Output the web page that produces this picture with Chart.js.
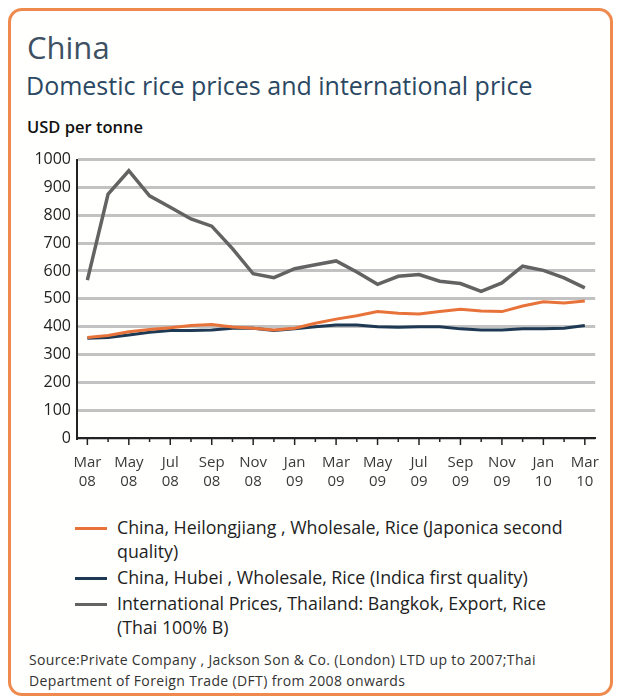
<!DOCTYPE html>
<html>
<head>
<meta charset="utf-8">
<script src="https://cdn.jsdelivr.net/npm/chart.js@4"></script>
<style>
  body { margin: 0; background: #fff; font-family: "Open Sans", sans-serif; }
  #frame {
    position: absolute; left: 8px; top: 8px; width: 599px; height: 682px;
    border: 3px solid #ef8a4f; border-radius: 14px; background: #fffffd;
  }
  #title { position: absolute; left: 27px; top: 26px; font-size: 31px; line-height: 42px; color: #3d5162; }
  #subtitle { position: absolute; left: 26px; top: 68px; font-size: 25px; line-height: 34px; color: #2b4863; }
  #unit { position: absolute; left: 27px; top: 115px; font-size: 16.5px; font-weight: 600; color: #111; letter-spacing: 0; }
  #chartBox { position: absolute; left: 20px; top: 144px; width: 594px; height: 354px; }
  #legend { position: absolute; left: 75px; top: 515px; width: 500px; font-size: 17.8px; color: #1e1e1e; }
  .item { position: relative; padding-left: 42px; line-height: 24px; margin-bottom: 2px; }
  .swatch { position: absolute; left: 0; top: 12px; width: 32px; height: 3px; }
  #source { position: absolute; left: 29px; top: 649px; font-size: 14px; color: #333; line-height: 21px; letter-spacing: 0.35px; }
</style>
</head>
<body>
<div id="frame"></div>
<div id="title">China</div>
<div id="subtitle">Domestic rice prices and international price</div>
<div id="unit">USD per tonne</div>
<div id="chartBox"><canvas id="riceChart"></canvas></div>
<div id="legend"></div>
<div id="source">Source:Private Company , Jackson Son &amp; Co. (London) LTD up to 2007;Thai<br>Department of Foreign Trade (DFT) from 2008 onwards</div>

<script>
// Months Mar 08 .. Mar 10
const months = ['Mar', 'Apr', 'May', 'Jun', 'Jul', 'Aug', 'Sep', 'Oct', 'Nov', 'Dec', 'Jan', 'Feb',
  'Mar', 'Apr', 'May', 'Jun', 'Jul', 'Aug', 'Sep', 'Oct', 'Nov', 'Dec', 'Jan', 'Feb', 'Mar'];
const years = ['08', '08', '08', '08', '08', '08', '08', '08', '08', '08', '09', '09',
  '09', '09', '09', '09', '09', '09', '09', '09', '09', '09', '10', '10', '10'];

const heilongjiang = [361, 368, 382, 390, 396, 404, 408, 399, 394, 388, 394, 412,
  427, 439, 454, 448, 445, 454, 462, 456, 454, 474, 489, 485, 492];
const hubei = [358, 361, 370, 380, 386, 386, 388, 394, 394, 386, 392, 400,
  406, 406, 400, 398, 400, 400, 392, 388, 388, 392, 392, 394, 404];
const thailand = [567, 876, 960, 870, 829, 787, 761, 680, 590, 576, 608, 622,
  636, 596, 552, 581, 587, 563, 555, 527, 557, 617, 602, 575, 539];

const yTicks = [0, 100, 200, 300, 400, 500, 600, 700, 800, 900, 1000];

const seriesLabels = [
  'China, Heilongjiang , Wholesale, Rice (Japonica second quality)',
  'China, Hubei , Wholesale, Rice (Indica first quality)',
  'International Prices, Thailand: Bangkok, Export, Rice (Thai 100% B)'
];
const seriesColors = ['#e8733a', '#1d3954', '#636363'];

const labels = months.map((m, i) => [m, years[i]]);

// short tick marks under the x axis, longer ones where there is a label
const monthTicks = {
  id: 'monthTicks',
  afterDraw(chart) {
    const x = chart.scales.x;
    const c = chart.ctx;
    c.save();
    c.strokeStyle = '#222';
    c.lineWidth = 1.5;
    x.ticks.forEach((t, i) => {
      const px = x.getPixelForTick(i);
      c.beginPath();
      c.moveTo(px, x.top);
      c.lineTo(px, x.top + (i % 2 === 0 ? 7 : 4));
      c.stroke();
    });
    c.restore();
  }
};

const ctx = document.getElementById('riceChart').getContext('2d');
const chart = new Chart(ctx, {
  type: 'line',
  data: {
    labels: labels,
    datasets: [
      { label: seriesLabels[2], data: thailand, borderColor: seriesColors[2], borderWidth: 3.5 },
      { label: seriesLabels[0], data: heilongjiang, borderColor: seriesColors[0], borderWidth: 3 },
      { label: seriesLabels[1], data: hubei, borderColor: seriesColors[1], borderWidth: 3 }
    ].map(d => Object.assign(d, { pointRadius: 0, tension: 0, fill: false }))
  },
  options: {
    responsive: true,
    maintainAspectRatio: false,
    animation: false,
    layout: { padding: { top: 14, right: 10, left: 0, bottom: 0 } },
    plugins: { legend: { display: false }, tooltip: { enabled: false } },
    scales: {
      x: {
        type: 'category',
        offset: true,
        afterFit: function(scale) { scale.height = 60; },
        grid: { display: true, drawOnChartArea: false, drawTicks: false },
        border: { color: '#222', width: 2 },
        ticks: {
          autoSkip: false,
          maxRotation: 0,
          color: '#3a3a3a',
          font: { family: 'Open Sans', size: 15, lineHeight: 1.27 },
          padding: 15,
          callback: function(value, index) {
            return index % 2 === 0 ? labels[index] : '';
          }
        }
      },
      y: {
        min: 0,
        max: 1000,
        afterFit: function(scale) { scale.width = 57; },
        afterBuildTicks: function(scale) { scale.ticks = yTicks.map(v => ({ value: v })); },
        grid: { color: '#c2c2c2', lineWidth: 3, drawTicks: false },
        border: { color: '#222', width: 2 },
        ticks: {
          color: '#222',
          padding: 6,
          font: { family: 'Open Sans', size: 16 },
          callback: function(value) { return String(value); }
        }
      }
    }
  },
  plugins: [monthTicks]
});

// HTML legend (wrapping text)
const legendBox = document.getElementById('legend');
[0, 1, 2].forEach(i => {
  const item = document.createElement('div');
  item.className = 'item';
  const sw = document.createElement('span');
  sw.className = 'swatch';
  sw.style.background = seriesColors[i];
  item.appendChild(sw);
  item.appendChild(document.createTextNode(seriesLabels[i]));
  legendBox.appendChild(item);
});
</script>
</body>
</html>
